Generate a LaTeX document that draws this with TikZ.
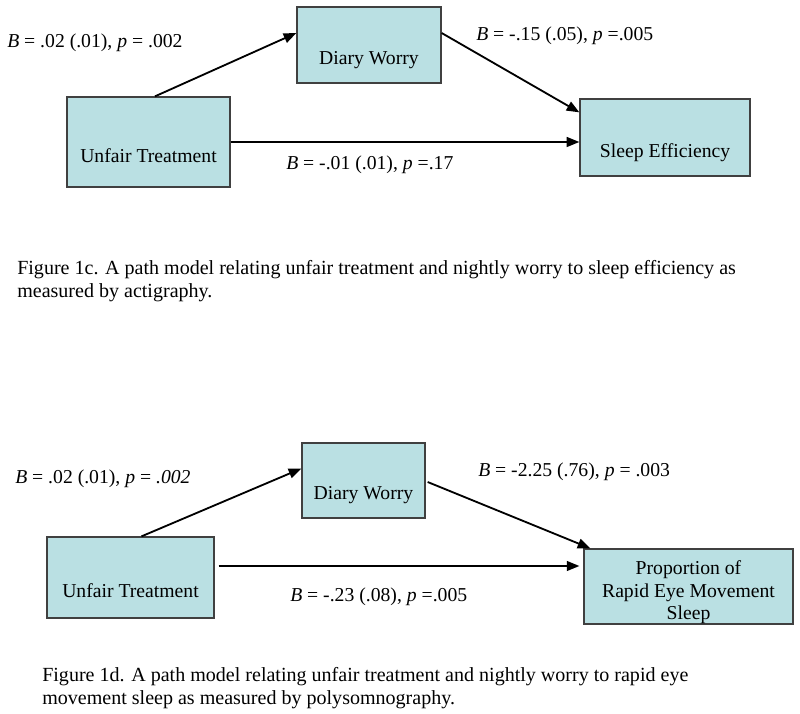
\documentclass[tikz,border=0pt]{standalone}
\usepackage{fontspec}
\setmainfont{Liberation Serif}
\usepackage{tikz}
\usetikzlibrary{calc,arrows.meta,positioning}
\definecolor{boxfill}{RGB}{186,224,227}
\definecolor{boxline}{RGB}{64,64,64}

\begin{document}
\begin{tikzpicture}[x=0.025cm,y=-0.025cm,
  font=\fontsize{14}{17}\selectfont,
  box/.style={draw=boxline,fill=boxfill,line width=0.9pt,inner sep=0pt},
  path/.style={-{Triangle[length=9pt,width=7pt]},line width=1.3pt},
  coef/.style={anchor=west,inner sep=0pt},
  caption/.style={anchor=north west,align=left,inner sep=0pt,font=\fontsize{14.25}{16.3}\selectfont}]
\useasboundingbox (0,0) rectangle (800,714);
%Figure 1c
\node[box,minimum width=3.6cm,minimum height=1.9cm] (dw1) at (369,45) {};
\node[box,minimum width=4.075cm,minimum height=2.25cm] (ut1) at (148.5,142) {};
\node[box,minimum width=4.25cm,minimum height=1.925cm] (se1) at (665,137.5) {};
\node (dw1t) at ($(dw1.center)+(0,15)$) {Diary Worry};
\node (ut1t) at ($(ut1.center)+(0,13.5)$) {Unfair Treatment};
\node (se1t) at ($(se1.center)+(0,15)$) {Sleep Efficiency};

\draw[path] ($(ut1.north)+(6.5,0)$) -- ($(dw1.west)+(0,-12)$);
\draw[path] ($(dw1.east)+(0,-12)$) -- ($(se1.north west)+(0,14)$);
\draw[path] (ut1.east) -- (ut1.east -| se1.west);

\node[coef] (b1a) at (7,43) {\textit{B} = .02 (.01), \textit{p} = .002};
\node[coef] (b1b) at (476,36) {\textit{B} = -.15 (.05), \textit{p} =.005};
\node[coef] (b1c) at (286,165) {\textit{B} = -.01 (.01), \textit{p} =.17};
\node[caption] (cap1) at (17,260) {Figure 1c. A path model relating unfair treatment and nightly worry to sleep efficiency as\\measured by actigraphy.};

%Figure 1d
\node[box,minimum width=3.075cm,minimum height=1.875cm] (dw2) at (363.5,480.5) {};
\node[box,minimum width=4.175cm,minimum height=2.025cm] (ut2) at (130.5,577.5) {};
\node[box,minimum width=5.225cm,minimum height=1.875cm] (rem2) at (688.5,586.5) {};
\node (dw2t) at ($(dw2.center)+(0,15)$) {Diary Worry};
\node (ut2t) at ($(ut2.center)+(0,13.5)$) {Unfair Treatment};
\node[align=center,font=\fontsize{14}{16}\selectfont] (rem2t) at ($(rem2.center)+(0,6)$) {Proportion of\\Rapid Eye Movement\\Sleep};

\draw[path] ($(ut2.north)+(11,0)$) -- ($(dw2.west)+(0,-12)$);
\draw[path] ($(dw2.east)+(2,1.5)$) -- ($(rem2.north west)+(7,0)$);
\draw[path,shorten <=2.8pt,shorten >=2.8pt] ($(ut2.east)+(0,-11.5)$) -- ($(rem2.west)+(0,-20.5)$);

\node[coef] (b2a) at (15,479) {\textit{B} = .02 (.01), \textit{p} = \textit{.002}};
\node[coef] (b2b) at (478,472) {\textit{B} = -2.25 (.76), \textit{p} = .003};
\node[coef] (b2c) at (290,597) {\textit{B} = -.23 (.08), \textit{p} =.005};
\node[caption] (cap2) at (42,667) {Figure 1d. A path model relating unfair treatment and nightly worry to rapid eye\\movement sleep as measured by polysomnography.};
\end{tikzpicture}
\end{document}
